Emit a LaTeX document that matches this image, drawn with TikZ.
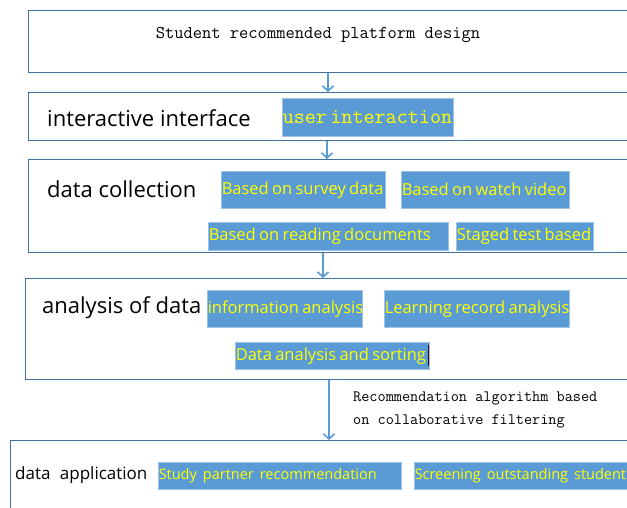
\documentclass[tikz,border=0pt]{standalone}
\usepackage{fontspec}
\setmainfont{Open Sans}
\usetikzlibrary{arrows.meta,positioning}
\definecolor{frame}{RGB}{65,113,156}
\definecolor{accent}{RGB}{91,155,213}
\definecolor{hilite}{RGB}{255,255,0}
\tikzset{
  panel/.style={draw=frame, line width=1.2pt, fill=white, rectangle, anchor=north west, inner sep=0pt},
  tag/.style={fill=accent, draw=accent!60!white, line width=0.5pt, anchor=north west, inner sep=0pt, text=hilite, align=left},
  arr/.style={draw=accent, line width=1.6pt, -{Straight Barb[length=5pt,width=11pt,line width=1.6pt]}},
  lbl/.style={anchor=west, inner sep=0pt, text=black},
}
\newcommand{\tagbox}[7]{% name, x, y, w, h, font, text
  \node[tag, minimum width=#4pt, minimum height=#5pt, text width=#4pt] (#1) at (#2,#3) {\mbox{\hspace*{0.5pt}#6#7}};
}
\begin{document}
\begin{tikzpicture}[x=1pt,y=-1pt]
\useasboundingbox (0,0) rectangle (627,508);
\fill[white] (0,0) rectangle (627,508);
\begin{scope}
\clip (0,0) rectangle (627,508);
% panels
\node[panel, minimum width=610pt, minimum height=62pt] (p1) at (28,10) {};
\node[panel, minimum width=610pt, minimum height=48pt] (p2) at (28,92) {};
\node[panel, minimum width=610pt, minimum height=93pt] (p3) at (28,159) {};
\node[panel, minimum width=612pt, minimum height=101pt] (p4) at (25,278) {};
\node[panel, minimum width=630pt, minimum height=90pt] (p5) at (10,440) {};

% titles
\node[inner sep=0pt, font=\ttfamily\fontsize{18}{20}\selectfont] (t1) at (318,35) {Student recommended platform design};
\node[lbl, font=\fontsize{22}{26}\selectfont] (t2) at (47,118) {interactive interface};
\node[lbl, font=\fontsize{22}{26}\selectfont] (t3) at (47,189) {data collection};
\node[lbl, font=\fontsize{22}{26}\selectfont] (t4) at (42,308) {analysis of data};
\node[lbl, font=\fontsize{17}{20}\selectfont] (t5) at (15,475) {data\hspace{5pt} application};

% tags
\tagbox{u1}{282}{98}{171}{38}{\ttfamily\fontsize{21.5}{22}\selectfont}{user interaction}
\tagbox{c1}{221}{171}{164}{37}{\fontsize{16.5}{20}\selectfont}{Based on survey data}
\tagbox{c2}{401}{171}{168}{37}{\fontsize{16.5}{20}\selectfont}{Based on watch video}
\tagbox{c3}{208}{222}{240}{28}{\fontsize{16.5}{20}\selectfont}{Based on reading documents}
\tagbox{c4}{456}{222}{137}{28}{\fontsize{16.5}{20}\selectfont}{Staged test based}
\tagbox{a1}{207}{290}{155}{37}{\fontsize{16.5}{20}\selectfont}{information analysis}
\tagbox{a2}{384}{290}{185}{37}{\fontsize{16.5}{20}\selectfont}{Learning record analysis}
\tagbox{a3}{235}{342}{194}{27}{\fontsize{16.5}{20}\selectfont}{Data analysis and sorting}
\draw[black!70!red, line width=0.8pt] (a3.north east) ++(-1,3) coordinate (cur1) -- ++(0,21) coordinate (cur2);
\tagbox{d1}{158}{462}{243}{27}{\fontsize{14.5}{18}\selectfont}{Study\hspace{6pt}partner\hspace{6pt}recommendation}
\tagbox{d2}{414}{462}{230}{27}{\fontsize{14.5}{18}\selectfont}{Screening\hspace{6pt}outstanding\hspace{6pt}student}

% side note
\node[anchor=north west, inner sep=0pt, align=left, font=\ttfamily\fontsize{15.8}{23}\selectfont] (note) at (353,392) {Recommendation algorithm based\\on collaborative filtering};

% arrows
\coordinate (x1) at (328,0);
\coordinate (x2) at (327,0);
\coordinate (x3) at (323,0);
\coordinate (x4) at (329,0);
\draw[arr] (p1.south -| x1) -- (p2.north -| x1);
\draw[arr] (p2.south -| x2) -- (p3.north -| x2);
\draw[arr] (p3.south -| x3) -- (p4.north -| x3);
\draw[arr, line width=2pt] (p4.south -| x4) -- (p5.north -| x4);
\end{scope}
\end{tikzpicture}
\end{document}
